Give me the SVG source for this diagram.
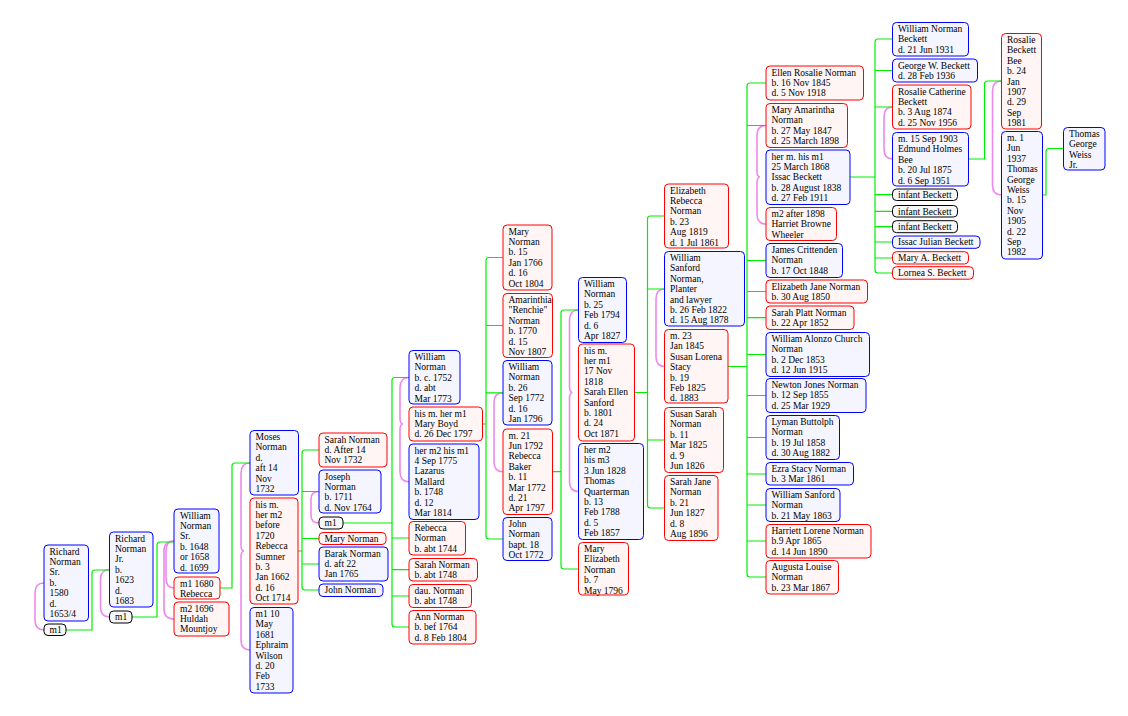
<svg xmlns="http://www.w3.org/2000/svg" width="1128" height="716" viewBox="0 0 1128 716">
<style>
rect.b{fill:#f5f5ff;stroke:#0000ff;stroke-width:1}
rect.r{fill:#fff5f5;stroke:#ff0000;stroke-width:1}
rect.k{fill:#f7f7f7;stroke:#000000;stroke-width:1}
text{font-family:"Liberation Serif","Times New Roman",serif;font-size:9.5px;fill:#000}
.g path{fill:none;stroke:#00ee00;stroke-width:1.2}
.p path{fill:none;stroke:#ee88ee;stroke-width:1.6}
</style>
<rect width="1128" height="716" fill="#ffffff"/>
<g id="connectors">
<g class="p">
<path d="M44,583 Q35,583 35,593 V620 Q35,630 44,630"/>
<path d="M109.5,569.5 Q100.5,569.5 100.5,579.5 V607 Q100.5,617 109.5,617"/>
<path d="M174,541 Q166,541 166,551 V578 Q166,588 174,588"/>
<path d="M174,541 Q164,541 164,551 V609 Q164,619 174,619"/>
<path d="M250,463 Q241,463 241,473 V545 Q241,551 244,551 M244,551 Q241,551 241,557 V640 Q241,650 250,650"/>
<path d="M319,491.5 Q311,491.5 311,499 V515.5 Q311,523 319,523"/>
<path d="M409,377.5 Q400,377.5 400,387.5 V418 Q400,424 403,424 M403,424 Q400,424 400,430 V471.7 Q400,481.7 409,481.7"/>
<path d="M503,392.8 Q494,392.8 494,402.8 V461.7 Q494,471.7 503,471.7"/>
<path d="M578.5,310 Q569.5,310 569.5,320 V386.5 Q569.5,392.5 572.5,392.5 M572.5,392.5 Q569.5,392.5 569.5,398.5 V481.5 Q569.5,491.5 578.5,491.5"/>
<path d="M664.5,289 Q656,289 656,299 V356.5 Q656,366.5 664.5,366.5"/>
<path d="M766,125.5 Q757,125.5 757,135.5 V171 Q757,177 760,177 M760,177 Q757,177 757,183 V214 Q757,224 766,224"/>
<path d="M892.5,107 Q884,107 884,117 V149 Q884,159 892.5,159"/>
<path d="M1001.5,81 Q992.5,81 992.5,91 V185 Q992.5,195 1001.5,195"/>
</g>
<g class="g">
<path d="M66,630 H92 V573 Q92,570 95,570 H109.5"/>
<path d="M132,617 H157 V545 Q157,542 160,542 H174"/>
<path d="M220,588 H232 V466 Q232,463 235,463 H250"/>
<path d="M298,551 H302 M319,450 H305 Q302,450 302,453 V587 Q302,590 305,590 H319 M302,491.5 H319 M302,538.5 H319 M302,564 H319"/>
<path d="M343,523 H392 M409,377.5 H395 Q392,377.5 392,380.5 V624 Q392,627 395,627 H409 M392,538 H409 M392,569.7 H409 M392,596 H409"/>
<path d="M482.5,424 H486 M503,257.5 H489 Q486,257.5 486,260.5 V536 Q486,539 489,539 H503 M486,325.5 H503 M486,392.8 H503"/>
<path d="M552.5,471.7 H561 M578.5,310 H564 Q561,310 561,313 V566 Q561,569 564,569 H578.5"/>
<path d="M634.5,392.5 H647.5 M664.5,216 H650.5 Q647.5,216 647.5,219 V505 Q647.5,508 650.5,508 H664.5 M647.5,289 H664.5 M647.5,440 H664.5"/>
<path d="M728,366.5 H747 M766,83 H750 Q747,83 747,86 V574 Q747,577 750,577 H766 M747,125.5 H766 M747,260.5 H766 M747,291.5 H766 M747,317.7 H766 M747,354.5 H766 M747,395.5 H766 M747,437.5 H766 M747,474 H766 M747,505 H766 M747,541 H766"/>
<path d="M850,177 H875 M892.5,39 H878 Q875,39 875,42 V270 Q875,273 878,273 H892.5 M875,70.5 H892.5 M875,107 H892.5 M875,194.7 H892.5 M875,211.3 H892.5 M875,226.7 H892.5 M875,242 H892.5 M875,258 H892.5"/>
<path d="M968.5,159 H984.5 V84 Q984.5,81 987.5,81 H1001.5"/>
<path d="M1042.5,195 H1046 V151.5 Q1046,148.5 1049,148.5 H1063.5"/>
</g>
</g>

<g id="n_richard_sr"><rect class="b" x="44" y="545" width="44.5" height="76" rx="4"/><text x="49.5" y="554.5"><tspan x="49.5">Richard</tspan><tspan x="49.5" dy="10.4">Norman</tspan><tspan x="49.5" dy="10.4">Sr.</tspan><tspan x="49.5" dy="10.4">b.</tspan><tspan x="49.5" dy="10.4">1580</tspan><tspan x="49.5" dy="10.4">d.</tspan><tspan x="49.5" dy="10.4">1653/4</tspan></text></g>
<g id="n_m1_a"><rect class="k" x="44" y="624" width="22" height="11.5" rx="4"/><text x="49.5" y="633">m1</text></g>
<g id="n_richard_jr"><rect class="b" x="109.5" y="532" width="43.5" height="75" rx="4"/><text x="115" y="541.5"><tspan x="115">Richard</tspan><tspan x="115" dy="10.4">Norman</tspan><tspan x="115" dy="10.4">Jr.</tspan><tspan x="115" dy="10.4">b.</tspan><tspan x="115" dy="10.4">1623</tspan><tspan x="115" dy="10.4">d.</tspan><tspan x="115" dy="10.4">1683</tspan></text></g>
<g id="n_m1_b"><rect class="k" x="109.5" y="611" width="22.5" height="12" rx="4"/><text x="115" y="620">m1</text></g>
<g id="n_william_sr"><rect class="b" x="174" y="509" width="45" height="64" rx="4"/><text x="180" y="518.5"><tspan x="180">William</tspan><tspan x="180" dy="10.4">Norman</tspan><tspan x="180" dy="10.4">Sr.</tspan><tspan x="180" dy="10.4">b. 1648</tspan><tspan x="180" dy="10.4">or 1658</tspan><tspan x="180" dy="10.4">d. 1699</tspan></text></g>
<g id="n_rebecca_1680"><rect class="r" x="174" y="577" width="46" height="22" rx="4"/><text x="180" y="586.5"><tspan x="180">m1 1680</tspan><tspan x="180" dy="10.4">Rebecca</tspan></text></g>
<g id="n_huldah"><rect class="r" x="174" y="602" width="55" height="34" rx="4"/><text x="180" y="611.5"><tspan x="180">m2 1696</tspan><tspan x="180" dy="10.4">Huldah</tspan><tspan x="180" dy="10.4">Mountjoy</tspan></text></g>
<g id="n_moses"><rect class="b" x="250" y="430.5" width="48.5" height="64.5" rx="4"/><text x="255.5" y="440"><tspan x="255.5">Moses</tspan><tspan x="255.5" dy="10.4">Norman</tspan><tspan x="255.5" dy="10.4">d.</tspan><tspan x="255.5" dy="10.4">aft 14</tspan><tspan x="255.5" dy="10.4">Nov</tspan><tspan x="255.5" dy="10.4">1732</tspan></text></g>
<g id="n_rebecca_sumner"><rect class="r" x="250" y="498" width="48" height="106" rx="4"/><text x="255.5" y="507.5"><tspan x="255.5">his m.</tspan><tspan x="255.5" dy="10.4">her m2</tspan><tspan x="255.5" dy="10.4">before</tspan><tspan x="255.5" dy="10.4">1720</tspan><tspan x="255.5" dy="10.4">Rebecca</tspan><tspan x="255.5" dy="10.4">Sumner</tspan><tspan x="255.5" dy="10.4">b. 3</tspan><tspan x="255.5" dy="10.4">Jan 1662</tspan><tspan x="255.5" dy="10.4">d. 16</tspan><tspan x="255.5" dy="10.4">Oct 1714</tspan></text></g>
<g id="n_ephraim"><rect class="b" x="250" y="607.5" width="43" height="85.5" rx="4"/><text x="255.5" y="617"><tspan x="255.5">m1 10</tspan><tspan x="255.5" dy="10.4">May</tspan><tspan x="255.5" dy="10.4">1681</tspan><tspan x="255.5" dy="10.4">Ephraim</tspan><tspan x="255.5" dy="10.4">Wilson</tspan><tspan x="255.5" dy="10.4">d. 20</tspan><tspan x="255.5" dy="10.4">Feb</tspan><tspan x="255.5" dy="10.4">1733</tspan></text></g>
<g id="n_sarah_1732"><rect class="r" x="319" y="433" width="68" height="34" rx="4"/><text x="324.5" y="442.5"><tspan x="324.5">Sarah Norman</tspan><tspan x="324.5" dy="10.4">d. After 14</tspan><tspan x="324.5" dy="10.4">Nov 1732</tspan></text></g>
<g id="n_joseph"><rect class="b" x="319" y="470" width="62" height="43" rx="4"/><text x="324.5" y="479.5"><tspan x="324.5">Joseph</tspan><tspan x="324.5" dy="10.4">Norman</tspan><tspan x="324.5" dy="10.4">b. 1711</tspan><tspan x="324.5" dy="10.4">d. Nov 1764</tspan></text></g>
<g id="n_m1_c"><rect class="k" x="319" y="517" width="24" height="12" rx="4"/><text x="324.5" y="526">m1</text></g>
<g id="n_mary_norman"><rect class="r" x="319" y="532.5" width="67" height="12" rx="4"/><text x="324.5" y="541.5">Mary Norman</text></g>
<g id="n_barak"><rect class="b" x="319" y="547" width="69" height="34" rx="4"/><text x="324.5" y="556.5"><tspan x="324.5">Barak Norman</tspan><tspan x="324.5" dy="10.4">d. aft 22</tspan><tspan x="324.5" dy="10.4">Jan 1765</tspan></text></g>
<g id="n_john_norman"><rect class="b" x="319" y="584" width="64" height="12.5" rx="4"/><text x="324.5" y="593.3">John Norman</text></g>
<g id="n_william_1752"><rect class="b" x="409" y="350.5" width="51" height="53.5" rx="4"/><text x="414.5" y="360"><tspan x="414.5">William</tspan><tspan x="414.5" dy="10.4">Norman</tspan><tspan x="414.5" dy="10.4">b. c. 1752</tspan><tspan x="414.5" dy="10.4">d. abt</tspan><tspan x="414.5" dy="10.4">Mar 1773</tspan></text></g>
<g id="n_mary_boyd"><rect class="r" x="409" y="407" width="73.5" height="34" rx="4"/><text x="414.5" y="416.5"><tspan x="414.5">his m. her m1</tspan><tspan x="414.5" dy="10.4">Mary Boyd</tspan><tspan x="414.5" dy="10.4">d. 26 Dec 1797</tspan></text></g>
<g id="n_lazarus"><rect class="b" x="409" y="444" width="70" height="75.5" rx="4"/><text x="414.5" y="453.5"><tspan x="414.5">her m2 his m1</tspan><tspan x="414.5" dy="10.4">4 Sep 1775</tspan><tspan x="414.5" dy="10.4">Lazarus</tspan><tspan x="414.5" dy="10.4">Mallard</tspan><tspan x="414.5" dy="10.4">b. 1748</tspan><tspan x="414.5" dy="10.4">d. 12</tspan><tspan x="414.5" dy="10.4">Mar 1814</tspan></text></g>
<g id="n_rebecca_1744"><rect class="r" x="409" y="521.5" width="56.5" height="33.5" rx="4"/><text x="414.5" y="531"><tspan x="414.5">Rebecca</tspan><tspan x="414.5" dy="10.4">Norman</tspan><tspan x="414.5" dy="10.4">b. abt 1744</tspan></text></g>
<g id="n_sarah_1748"><rect class="r" x="409" y="558.5" width="68.5" height="22.5" rx="4"/><text x="414.5" y="568"><tspan x="414.5">Sarah Norman</tspan><tspan x="414.5" dy="10.4">b. abt 1748</tspan></text></g>
<g id="n_dau"><rect class="r" x="409" y="584.5" width="62.5" height="23" rx="4"/><text x="414.5" y="594"><tspan x="414.5">dau. Norman</tspan><tspan x="414.5" dy="10.4">b. abt 1748</tspan></text></g>
<g id="n_ann"><rect class="r" x="409" y="610.5" width="67" height="33.5" rx="4"/><text x="414.5" y="620"><tspan x="414.5">Ann Norman</tspan><tspan x="414.5" dy="10.4">b. bef 1764</tspan><tspan x="414.5" dy="10.4">d. 8 Feb 1804</tspan></text></g>
<g id="n_mary_1766"><rect class="r" x="503" y="225" width="49" height="65" rx="4"/><text x="508.5" y="234.5"><tspan x="508.5">Mary</tspan><tspan x="508.5" dy="10.4">Norman</tspan><tspan x="508.5" dy="10.4">b. 15</tspan><tspan x="508.5" dy="10.4">Jan 1766</tspan><tspan x="508.5" dy="10.4">d. 16</tspan><tspan x="508.5" dy="10.4">Oct 1804</tspan></text></g>
<g id="n_amarinthia"><rect class="r" x="503" y="293.5" width="49.5" height="64" rx="4"/><text x="508.5" y="303"><tspan x="508.5">Amarinthia</tspan><tspan x="508.5" dy="10.4">"Renchie"</tspan><tspan x="508.5" dy="10.4">Norman</tspan><tspan x="508.5" dy="10.4">b. 1770</tspan><tspan x="508.5" dy="10.4">d. 15</tspan><tspan x="508.5" dy="10.4">Nov 1807</tspan></text></g>
<g id="n_william_1772"><rect class="b" x="503" y="360.5" width="49" height="64.5" rx="4"/><text x="508.5" y="370"><tspan x="508.5">William</tspan><tspan x="508.5" dy="10.4">Norman</tspan><tspan x="508.5" dy="10.4">b. 26</tspan><tspan x="508.5" dy="10.4">Sep 1772</tspan><tspan x="508.5" dy="10.4">d. 16</tspan><tspan x="508.5" dy="10.4">Jan 1796</tspan></text></g>
<g id="n_rebecca_baker"><rect class="r" x="503" y="429" width="49.5" height="85.5" rx="4"/><text x="508.5" y="438.5"><tspan x="508.5">m. 21</tspan><tspan x="508.5" dy="10.4">Jun 1792</tspan><tspan x="508.5" dy="10.4">Rebecca</tspan><tspan x="508.5" dy="10.4">Baker</tspan><tspan x="508.5" dy="10.4">b. 11</tspan><tspan x="508.5" dy="10.4">Mar 1772</tspan><tspan x="508.5" dy="10.4">d. 21</tspan><tspan x="508.5" dy="10.4">Apr 1797</tspan></text></g>
<g id="n_john_1772"><rect class="b" x="503" y="517.5" width="49" height="43" rx="4"/><text x="508.5" y="527"><tspan x="508.5">John</tspan><tspan x="508.5" dy="10.4">Norman</tspan><tspan x="508.5" dy="10.4">bapt. 18</tspan><tspan x="508.5" dy="10.4">Oct 1772</tspan></text></g>
<g id="n_william_1794"><rect class="b" x="578.5" y="277.5" width="48" height="65" rx="4"/><text x="584" y="287"><tspan x="584">William</tspan><tspan x="584" dy="10.4">Norman</tspan><tspan x="584" dy="10.4">b. 25</tspan><tspan x="584" dy="10.4">Feb 1794</tspan><tspan x="584" dy="10.4">d. 6</tspan><tspan x="584" dy="10.4">Apr 1827</tspan></text></g>
<g id="n_sarah_ellen"><rect class="r" x="578.5" y="344" width="56" height="97" rx="4"/><text x="584" y="353.5"><tspan x="584">his m.</tspan><tspan x="584" dy="10.4">her m1</tspan><tspan x="584" dy="10.4">17 Nov</tspan><tspan x="584" dy="10.4">1818</tspan><tspan x="584" dy="10.4">Sarah Ellen</tspan><tspan x="584" dy="10.4">Sanford</tspan><tspan x="584" dy="10.4">b. 1801</tspan><tspan x="584" dy="10.4">d. 24</tspan><tspan x="584" dy="10.4">Oct 1871</tspan></text></g>
<g id="n_thomas_q"><rect class="b" x="578.5" y="443.5" width="65" height="96" rx="4"/><text x="584" y="453"><tspan x="584">her m2</tspan><tspan x="584" dy="10.4">his m3</tspan><tspan x="584" dy="10.4">3 Jun 1828</tspan><tspan x="584" dy="10.4">Thomas</tspan><tspan x="584" dy="10.4">Quarterman</tspan><tspan x="584" dy="10.4">b. 13</tspan><tspan x="584" dy="10.4">Feb 1788</tspan><tspan x="584" dy="10.4">d. 5</tspan><tspan x="584" dy="10.4">Feb 1857</tspan></text></g>
<g id="n_mary_elizabeth"><rect class="r" x="578.5" y="542.5" width="50" height="52.5" rx="4"/><text x="584" y="552"><tspan x="584">Mary</tspan><tspan x="584" dy="10.4">Elizabeth</tspan><tspan x="584" dy="10.4">Norman</tspan><tspan x="584" dy="10.4">b. 7</tspan><tspan x="584" dy="10.4">May 1796</tspan></text></g>
<g id="n_elizabeth_rebecca"><rect class="r" x="664.5" y="184" width="64" height="64" rx="4"/><text x="670" y="193.5"><tspan x="670">Elizabeth</tspan><tspan x="670" dy="10.4">Rebecca</tspan><tspan x="670" dy="10.4">Norman</tspan><tspan x="670" dy="10.4">b. 23</tspan><tspan x="670" dy="10.4">Aug 1819</tspan><tspan x="670" dy="10.4">d. 1 Jul 1861</tspan></text></g>
<g id="n_william_sanford"><rect class="b" x="664.5" y="251.5" width="80" height="74.5" rx="4"/><text x="670" y="261"><tspan x="670">William</tspan><tspan x="670" dy="10.4">Sanford</tspan><tspan x="670" dy="10.4">Norman,</tspan><tspan x="670" dy="10.4">Planter</tspan><tspan x="670" dy="10.4">and lawyer</tspan><tspan x="670" dy="10.4">b. 26 Feb 1822</tspan><tspan x="670" dy="10.4">d. 15 Aug 1878</tspan></text></g>
<g id="n_susan_lorena"><rect class="r" x="664.5" y="329.5" width="63.5" height="73.5" rx="4"/><text x="670" y="339"><tspan x="670">m. 23</tspan><tspan x="670" dy="10.4">Jan 1845</tspan><tspan x="670" dy="10.4">Susan Lorena</tspan><tspan x="670" dy="10.4">Stacy</tspan><tspan x="670" dy="10.4">b. 19</tspan><tspan x="670" dy="10.4">Feb 1825</tspan><tspan x="670" dy="10.4">d. 1883</tspan></text></g>
<g id="n_susan_sarah"><rect class="r" x="664.5" y="407.5" width="59" height="65" rx="4"/><text x="670" y="417"><tspan x="670">Susan Sarah</tspan><tspan x="670" dy="10.4">Norman</tspan><tspan x="670" dy="10.4">b. 11</tspan><tspan x="670" dy="10.4">Mar 1825</tspan><tspan x="670" dy="10.4">d. 9</tspan><tspan x="670" dy="10.4">Jun 1826</tspan></text></g>
<g id="n_sarah_jane"><rect class="r" x="664.5" y="475.5" width="53.5" height="65" rx="4"/><text x="670" y="485"><tspan x="670">Sarah Jane</tspan><tspan x="670" dy="10.4">Norman</tspan><tspan x="670" dy="10.4">b. 21</tspan><tspan x="670" dy="10.4">Jun 1827</tspan><tspan x="670" dy="10.4">d. 8</tspan><tspan x="670" dy="10.4">Aug 1896</tspan></text></g>
<g id="n_ellen"><rect class="r" x="766" y="66" width="97.5" height="34" rx="4"/><text x="771.5" y="75.5"><tspan x="771.5">Ellen Rosalie Norman</tspan><tspan x="771.5" dy="10.4">b. 16 Nov 1845</tspan><tspan x="771.5" dy="10.4">d. 5 Nov 1918</tspan></text></g>
<g id="n_mary_amarintha"><rect class="r" x="766" y="103.5" width="81.5" height="44" rx="4"/><text x="771.5" y="113"><tspan x="771.5">Mary Amarintha</tspan><tspan x="771.5" dy="10.4">Norman</tspan><tspan x="771.5" dy="10.4">b. 27 May 1847</tspan><tspan x="771.5" dy="10.4">d. 25 March 1898</tspan></text></g>
<g id="n_issac"><rect class="b" x="766" y="150" width="84" height="54.5" rx="4"/><text x="771.5" y="159.5"><tspan x="771.5">her m. his m1</tspan><tspan x="771.5" dy="10.4">25 March 1868</tspan><tspan x="771.5" dy="10.4">Issac Beckett</tspan><tspan x="771.5" dy="10.4">b. 28 August 1838</tspan><tspan x="771.5" dy="10.4">d. 27 Feb 1911</tspan></text></g>
<g id="n_harriet"><rect class="r" x="766" y="207.5" width="70.5" height="33" rx="4"/><text x="771.5" y="217"><tspan x="771.5">m2 after 1898</tspan><tspan x="771.5" dy="10.4">Harriet Browne</tspan><tspan x="771.5" dy="10.4">Wheeler</tspan></text></g>
<g id="n_james"><rect class="b" x="766" y="243.5" width="76.5" height="34" rx="4"/><text x="771.5" y="253"><tspan x="771.5">James Crittenden</tspan><tspan x="771.5" dy="10.4">Norman</tspan><tspan x="771.5" dy="10.4">b. 17 Oct 1848</tspan></text></g>
<g id="n_elizabeth_jane"><rect class="r" x="766" y="280" width="101.5" height="23" rx="4"/><text x="771.5" y="289.5"><tspan x="771.5">Elizabeth Jane Norman</tspan><tspan x="771.5" dy="10.4">b. 30 Aug 1850</tspan></text></g>
<g id="n_sarah_platt"><rect class="r" x="766" y="306" width="88" height="23.5" rx="4"/><text x="771.5" y="315.5"><tspan x="771.5">Sarah Platt Norman</tspan><tspan x="771.5" dy="10.4">b. 22 Apr 1852</tspan></text></g>
<g id="n_william_alonzo"><rect class="b" x="766" y="332.5" width="103.5" height="44" rx="4"/><text x="771.5" y="342"><tspan x="771.5">William Alonzo Church</tspan><tspan x="771.5" dy="10.4">Norman</tspan><tspan x="771.5" dy="10.4">b. 2 Dec 1853</tspan><tspan x="771.5" dy="10.4">d. 12 Jun 1915</tspan></text></g>
<g id="n_newton"><rect class="b" x="766" y="378.5" width="100" height="34" rx="4"/><text x="771.5" y="388"><tspan x="771.5">Newton Jones Norman</tspan><tspan x="771.5" dy="10.4">b. 12 Sep 1855</tspan><tspan x="771.5" dy="10.4">d. 25 Mar 1929</tspan></text></g>
<g id="n_lyman"><rect class="b" x="766" y="415.5" width="73.5" height="44" rx="4"/><text x="771.5" y="425"><tspan x="771.5">Lyman Buttolph</tspan><tspan x="771.5" dy="10.4">Norman</tspan><tspan x="771.5" dy="10.4">b. 19 Jul 1858</tspan><tspan x="771.5" dy="10.4">d. 30 Aug 1882</tspan></text></g>
<g id="n_ezra"><rect class="b" x="766" y="462.5" width="87.5" height="22.5" rx="4"/><text x="771.5" y="472"><tspan x="771.5">Ezra Stacy Norman</tspan><tspan x="771.5" dy="10.4">b. 3 Mar 1861</tspan></text></g>
<g id="n_william_sanford_jr"><rect class="b" x="766" y="488.5" width="74" height="33" rx="4"/><text x="771.5" y="498"><tspan x="771.5">William Sanford</tspan><tspan x="771.5" dy="10.4">Norman</tspan><tspan x="771.5" dy="10.4">b. 21 May 1863</tspan></text></g>
<g id="n_harriett"><rect class="r" x="766" y="524.5" width="105" height="33.5" rx="4"/><text x="771.5" y="534"><tspan x="771.5">Harriett Lorene Norman</tspan><tspan x="771.5" dy="10.4">b.9 Apr 1865</tspan><tspan x="771.5" dy="10.4">d. 14 Jun 1890</tspan></text></g>
<g id="n_augusta"><rect class="r" x="766" y="560.5" width="72.5" height="33.5" rx="4"/><text x="771.5" y="570"><tspan x="771.5">Augusta Louise</tspan><tspan x="771.5" dy="10.4">Norman</tspan><tspan x="771.5" dy="10.4">b. 23 Mar 1867</tspan></text></g>
<g id="n_william_beckett"><rect class="b" x="892.5" y="22.5" width="76" height="33.5" rx="4"/><text x="898" y="32"><tspan x="898">William Norman</tspan><tspan x="898" dy="10.4">Beckett</tspan><tspan x="898" dy="10.4">d. 21 Jun 1931</tspan></text></g>
<g id="n_george"><rect class="b" x="892.5" y="59" width="85" height="23" rx="4"/><text x="898" y="68.5"><tspan x="898">George W. Beckett</tspan><tspan x="898" dy="10.4">d. 28 Feb 1936</tspan></text></g>
<g id="n_rosalie_catherine"><rect class="r" x="892.5" y="85" width="78.5" height="44" rx="4"/><text x="898" y="94.5"><tspan x="898">Rosalie Catherine</tspan><tspan x="898" dy="10.4">Beckett</tspan><tspan x="898" dy="10.4">b. 3 Aug 1874</tspan><tspan x="898" dy="10.4">d. 25 Nov 1956</tspan></text></g>
<g id="n_edmund"><rect class="b" x="892.5" y="132.5" width="76" height="53.5" rx="4"/><text x="898" y="142"><tspan x="898">m. 15 Sep 1903</tspan><tspan x="898" dy="10.4">Edmund Holmes</tspan><tspan x="898" dy="10.4">Bee</tspan><tspan x="898" dy="10.4">b. 20 Jul 1875</tspan><tspan x="898" dy="10.4">d. 6 Sep 1951</tspan></text></g>
<g id="n_infant1"><rect class="k" x="892.5" y="189" width="65" height="11.5" rx="4"/><text x="898" y="198">infant Beckett</text></g>
<g id="n_infant2"><rect class="k" x="892.5" y="205.5" width="65" height="11.5" rx="4"/><text x="898" y="214.5">infant Beckett</text></g>
<g id="n_infant3"><rect class="k" x="892.5" y="220.7" width="65" height="12" rx="4"/><text x="898" y="229.8">infant Beckett</text></g>
<g id="n_issac_julian"><rect class="b" x="892.5" y="236" width="87.5" height="12.3" rx="4"/><text x="898" y="245.2">Issac Julian Beckett</text></g>
<g id="n_mary_a"><rect class="r" x="892.5" y="251.7" width="76" height="12.3" rx="4"/><text x="898" y="260.9">Mary A. Beckett</text></g>
<g id="n_lornea"><rect class="r" x="892.5" y="266.7" width="81" height="12.5" rx="4"/><text x="898" y="276">Lornea S. Beckett</text></g>
<g id="n_rosalie_bee"><rect class="r" x="1001.5" y="33.5" width="40" height="95.5" rx="4"/><text x="1007" y="43"><tspan x="1007">Rosalie</tspan><tspan x="1007" dy="10.4">Beckett</tspan><tspan x="1007" dy="10.4">Bee</tspan><tspan x="1007" dy="10.4">b. 24</tspan><tspan x="1007" dy="10.4">Jan</tspan><tspan x="1007" dy="10.4">1907</tspan><tspan x="1007" dy="10.4">d. 29</tspan><tspan x="1007" dy="10.4">Sep</tspan><tspan x="1007" dy="10.4">1981</tspan></text></g>
<g id="n_thomas_weiss"><rect class="b" x="1001.5" y="131.5" width="41" height="127.5" rx="4"/><text x="1007" y="141"><tspan x="1007">m. 1</tspan><tspan x="1007" dy="10.4">Jun</tspan><tspan x="1007" dy="10.4">1937</tspan><tspan x="1007" dy="10.4">Thomas</tspan><tspan x="1007" dy="10.4">George</tspan><tspan x="1007" dy="10.4">Weiss</tspan><tspan x="1007" dy="10.4">b. 15</tspan><tspan x="1007" dy="10.4">Nov</tspan><tspan x="1007" dy="10.4">1905</tspan><tspan x="1007" dy="10.4">d. 22</tspan><tspan x="1007" dy="10.4">Sep</tspan><tspan x="1007" dy="10.4">1982</tspan></text></g>
<g id="n_thomas_jr"><rect class="b" x="1063.5" y="127.5" width="41.5" height="42.5" rx="4"/><text x="1069" y="137"><tspan x="1069">Thomas</tspan><tspan x="1069" dy="10.4">George</tspan><tspan x="1069" dy="10.4">Weiss</tspan><tspan x="1069" dy="10.4">Jr.</tspan></text></g>
</svg>
